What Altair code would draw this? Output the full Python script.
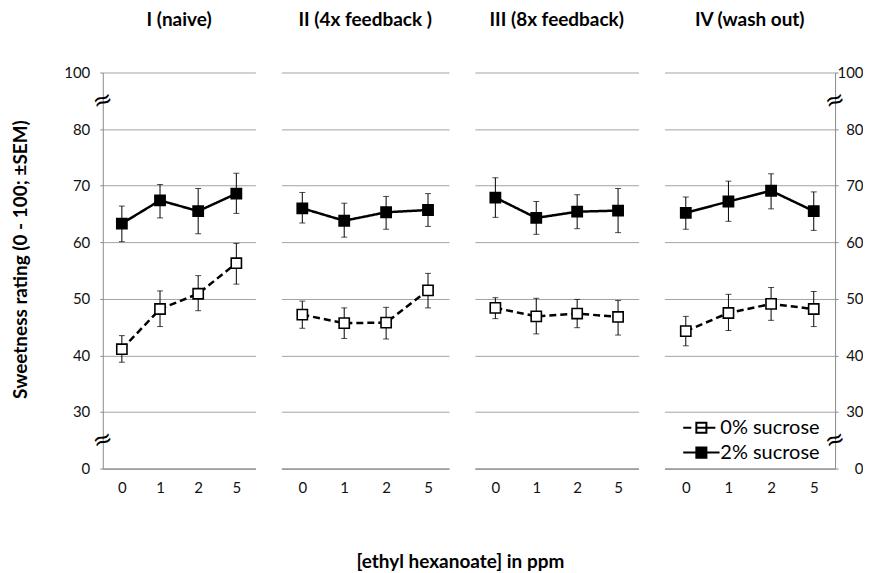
import altair as alt
import pandas as pd

panel_titles = ["I (naive)", "II (4x feedback )", "III (8x feedback)", "IV (wash out)"]
ppm_levels = ["0", "1", "2", "5"]
series_names = ["0% sucrose", "2% sucrose"]

# per panel (I..IV), per ppm level (0,1,2,5)
mean_0pct = [[41.1, 48.2, 50.9, 56.3], [47.2, 45.7, 45.8, 51.5], [48.4, 46.9, 47.4, 46.8], [44.3, 47.5, 49.1, 48.2]]
low_0pct = [[38.8, 45.1, 47.9, 52.6], [44.8, 43.0, 42.9, 48.4], [46.5, 43.8, 44.9, 43.6], [41.7, 44.4, 46.2, 45.1]]
high_0pct = [[43.5, 51.4, 54.1, 59.8], [49.6, 48.4, 48.5, 54.5], [50.2, 50.1, 49.9, 49.7], [46.9, 50.8, 52.0, 51.3]]
mean_2pct = [[63.3, 67.4, 65.5, 68.6], [66.0, 63.8, 65.3, 65.7], [67.9, 64.3, 65.4, 65.6], [65.2, 67.2, 69.1, 65.5]]
low_2pct = [[60.1, 64.3, 61.5, 65.1], [63.4, 60.9, 62.3, 62.8], [64.4, 61.4, 62.4, 61.7], [62.3, 63.7, 65.9, 62.1]]
high_2pct = [[66.4, 70.2, 69.5, 72.2], [68.8, 66.9, 68.1, 68.6], [71.4, 67.2, 68.4, 69.5], [68.0, 70.8, 72.1, 68.9]]

# broken axis: positions on the scale and the labels shown there
y_tick_positions = [20, 30, 40, 50, 60, 70, 80, 90]
y_tick_labels = ["0", "30", "40", "50", "60", "70", "80", "100"]
break_positions = [85, 25]

panel_widths = [153, 168, 164, 171]
PLOT_H = 397
FONT = "Lato"

label_expr = " : ".join(
    f"datum.value == {p} ? '{l}'" for p, l in zip(y_tick_positions, y_tick_labels)
) + " : datum.label"

y_scale = alt.Scale(domain=[20, 90], nice=False, zero=False)
x_scale = alt.Scale(domain=ppm_levels, type="point", padding=0.5)
fill_scale = alt.Scale(domain=series_names, range=["white", "black"])

path_open = "M-1.3,0H-0.72M-0.36,-0.36H0.36V0.36H-0.36ZM-0.36,0H0.36M0.36,0H1.0"
path_solid = "M-1.3,0H1.3M-0.36,-0.36H0.36V0.36H-0.36Z"
shape_scale = alt.Scale(domain=series_names, range=[path_open, path_solid])
line_dash = {series_names[0]: [7, 4], series_names[1]: [1, 0]}

GRID = "#a3a3a3"
DOMAIN = "#8a8a8a"


def panel_df(i):
    rows = []
    for s, m, lo, hi in [
        (series_names[0], mean_0pct, low_0pct, high_0pct),
        (series_names[1], mean_2pct, low_2pct, high_2pct),
    ]:
        for j, p in enumerate(ppm_levels):
            rows.append({"series": s, "ppm": p, "mean": m[i][j], "low": lo[i][j], "high": hi[i][j]})
    return pd.DataFrame(rows)


def y_axis(kind):
    common = dict(values=y_tick_positions, grid=True, gridColor=GRID, gridWidth=1)
    if kind == "left":
        return alt.Axis(
            orient="left", labelExpr=label_expr, title="Sweetness rating (0 - 100; ±SEM)",
            titleFont=FONT, titleFontSize=19, titleFontWeight="bold", titleColor="black",
            titlePadding=33, titleY=187,
            labelFont=FONT, labelFontSize=15, labelColor="#111", labelPadding=10,
            tickSize=3, tickColor=DOMAIN, domainColor=DOMAIN, **common)
    if kind == "right":
        return alt.Axis(
            orient="right", labelExpr=label_expr, title=None,
            labelFont=FONT, labelFontSize=15, labelColor="#111", labelPadding=25,
            labelAlign="right",
            tickSize=3, tickColor=DOMAIN, domainColor=DOMAIN, **common)
    return alt.Axis(labels=False, ticks=False, domain=False, title=None, **common)


def make_panel(i, kind):
    df = panel_df(i)
    yax = y_axis(kind)
    x = alt.X("ppm:O", scale=x_scale, sort=ppm_levels,
              axis=alt.Axis(title=None, labelAngle=0, ticks=False, grid=False,
                            domainColor="#7a7a7a", labelFont=FONT, labelFontSize=15,
                            labelColor="#111", labelPadding=12))

    def Y(field):
        return alt.Y(field, scale=y_scale, axis=yax)

    if kind == "right":
        leg = alt.Legend(orient="none", legendX=22, legendY=341, title=None,
                         labelFont=FONT, labelFontSize=20, labelColor="black",
                         symbolSize=784, symbolStrokeWidth=2, symbolStrokeColor="black",
                         labelOffset=4, rowPadding=-3, padding=0)
    else:
        leg = None

    base = alt.Chart(df)
    layers = []
    for s in series_names:
        layers.append(
            base.transform_filter(alt.datum.series == s)
            .mark_line(color="black", strokeWidth=2.5, strokeDash=line_dash[s])
            .encode(x=x, y=Y("mean:Q"))
        )
    rules = base.mark_rule(color="black", strokeWidth=1).encode(
        x=x, y=Y("low:Q"), y2="high:Q", detail="series:N")
    cap_lo = base.mark_tick(color="black", thickness=1, size=6, orient="horizontal").encode(
        x=x, y=Y("low:Q"))
    cap_hi = base.mark_tick(color="black", thickness=1, size=6, orient="horizontal").encode(
        x=x, y=Y("high:Q"))
    points = base.mark_square(size=105, stroke="black", strokeWidth=1.6, opacity=1).encode(
        x=x, y=Y("mean:Q"),
        fill=alt.Fill("series:N", scale=fill_scale, legend=leg))
    layers += [rules, cap_lo, cap_hi, points]

    if kind in ("left", "right"):
        bx = 0 if kind == "left" else panel_widths[i]
        brk = alt.Chart(pd.DataFrame({"pos": break_positions})).mark_text(
            text="≈", font="DejaVu Sans", fontSize=24, angle=340, color="black"
        ).encode(y=Y("pos:Q"), x=alt.value(bx))
        layers.append(brk)

    if kind == "right":
        dummy = base.transform_filter("false").mark_point(stroke="black", strokeWidth=2, opacity=1).encode(
            x=x, y=Y("mean:Q"),
            shape=alt.Shape("series:N", scale=shape_scale, legend=leg),
            fill=alt.Fill("series:N", scale=fill_scale, legend=leg),
        )
        layers.append(dummy)

    # panels with a y axis have bounds that reach ~7px above the plot (the "100" label)
    title_offset = 36 if kind in ("left", "right") else 43
    return alt.layer(*layers).properties(
        width=panel_widths[i], height=PLOT_H,
        title=alt.Title(panel_titles[i], font=FONT, fontSize=19, fontWeight="bold",
                        color="black", offset=title_offset, anchor="middle"),
    )


kinds = ["left", "none", "none", "right"]
chart = alt.hconcat(*[make_panel(i, k) for i, k in enumerate(kinds)], spacing=26).resolve_scale(
    fill="independent", shape="independent"
).resolve_legend(
    fill="independent", shape="independent"
).properties(
    title=alt.Title("[ethyl hexanoate] in ppm", orient="bottom", anchor="middle",
                    font=FONT, fontSize=19, fontWeight="bold", color="black", offset=58, dx=23),
    padding={"left": 3, "top": 2, "right": 0, "bottom": 0},
).configure_view(stroke=None)

chart.save("out.html", embed_options={"renderer": "svg", "actions": False})
